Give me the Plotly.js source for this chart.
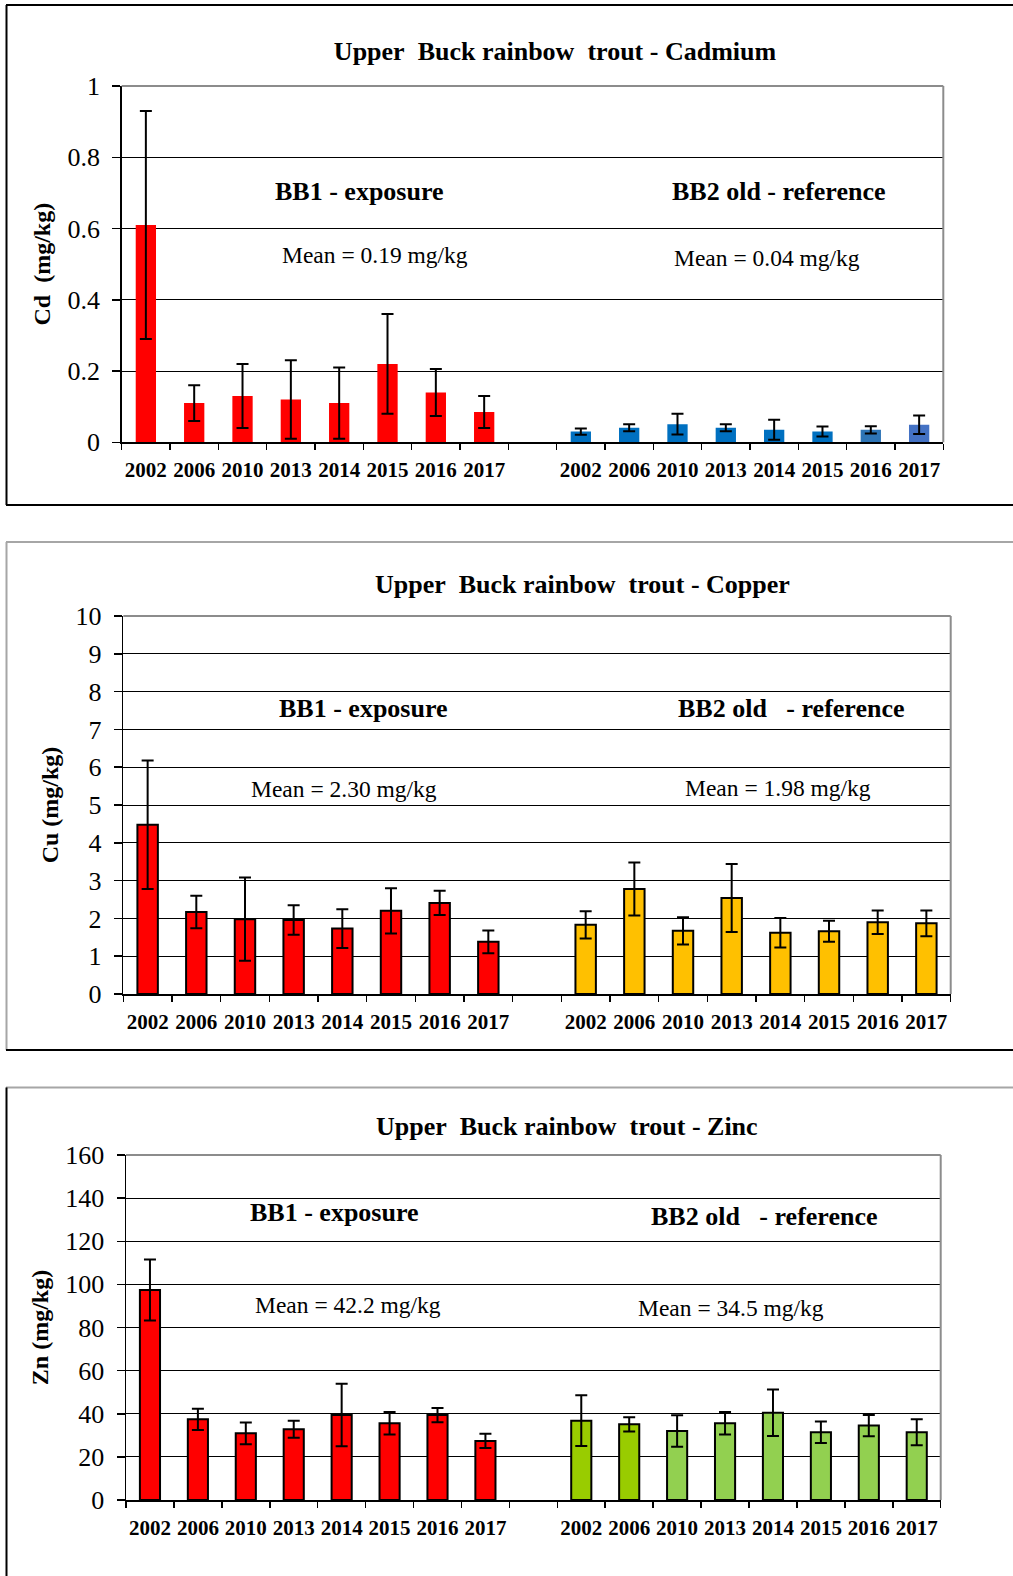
<!DOCTYPE html>
<html>
<head>
<meta charset="utf-8">
<script src="https://cdn.plot.ly/plotly-3.0.1.min.js"></script>
<style>
  html, body { margin: 0; padding: 0; background: #fff; }
  #chart { width: 1013px; height: 1576px; }
</style>
</head>
<body>
<div id="chart"></div>
<script>
// ---------------- data ----------------
const years = ['2002', '2006', '2010', '2013', '2014', '2015', '2016', '2017'];

const cdBB1    = [0.61, 0.11, 0.13, 0.12, 0.11, 0.22, 0.14, 0.085];
const cdBB1Err = [0.32, 0.05, 0.09, 0.11, 0.10, 0.14, 0.066, 0.045];
const cdBB2    = [0.030, 0.041, 0.051, 0.041, 0.035, 0.030, 0.035, 0.049];
const cdBB2Err = [0.009, 0.010, 0.029, 0.010, 0.028, 0.014, 0.010, 0.026];

const cuBB1    = [4.48, 2.17, 1.98, 1.96, 1.73, 2.20, 2.41, 1.38];
const cuBB1Err = [1.70, 0.43, 1.10, 0.39, 0.51, 0.60, 0.32, 0.30];
const cuBB2    = [1.83, 2.78, 1.67, 2.54, 1.62, 1.66, 1.90, 1.87];
const cuBB2Err = [0.36, 0.70, 0.36, 0.90, 0.39, 0.28, 0.31, 0.34];

const znBB1    = [97.4, 37.4, 30.9, 32.8, 39.4, 35.6, 39.4, 27.4];
const znBB1Err = [14.1, 4.9, 5.0, 3.9, 14.5, 5.2, 3.3, 3.3];
const znBB2    = [36.8, 35.1, 32.0, 35.6, 40.5, 31.4, 34.5, 31.4];
const znBB2Err = [11.8, 3.3, 7.3, 5.2, 10.8, 5.0, 4.9, 6.0];

const titles = [
  'Upper\u00A0 Buck rainbow\u00A0 trout - Cadmium',
  'Upper\u00A0 Buck rainbow\u00A0 trout - Copper',
  'Upper\u00A0 Buck rainbow\u00A0 trout - Zinc'
];
const yTitles = ['Cd\u00A0 (mg/kg)', 'Cu (mg/kg)', 'Zn (mg/kg)'];
const siteLabels = [
  ['BB1 - exposure', 'BB2 old - reference'],
  ['BB1 - exposure', 'BB2 old\u00A0\u00A0 - reference'],
  ['BB1 - exposure', 'BB2 old\u00A0\u00A0 - reference']
];
const meanLabels = [
  ['Mean = 0.19 mg/kg', 'Mean = 0.04 mg/kg'],
  ['Mean = 2.30 mg/kg', 'Mean = 1.98 mg/kg'],
  ['Mean = 42.2 mg/kg', 'Mean = 34.5 mg/kg']
];

// ---------------- styles ----------------
const W = 1013, H = 1576;
const FONT = 'Liberation Serif, Times New Roman, serif';
const px = v => v / W;
const py = v => 1 - v / H;

const red = '#FF0000';
const cdBlue = ['#0070C0', '#0070C0', '#0070C0', '#0070C0', '#0070C0', '#0070C0', '#2E75B6', '#4472C4'];
const cuYellow = years.map(() => '#FFC000');
const znGreen = ['#99CC00', '#99CC00', '#92D050', '#92D050', '#92D050', '#92D050', '#92D050', '#92D050'];

// panel geometry (pixels)
const panels = [
  { l: 121.7, r: 943.3, t: 86,   b: 442.3, ymax: 1,   dtick: 0.2, outline: 0,
    site: [[359, 191], [778, 191]], mean: [[375, 255], [767, 258]], title: [555, 51] },
  { l: 123.3, r: 950.7, t: 616,  b: 994,   ymax: 10,  dtick: 1,   outline: 2,
    site: [[363, 708], [791, 708]], mean: [[344, 789], [778, 788]], title: [582, 584] },
  { l: 126,   r: 940.7, t: 1155, b: 1500,  ymax: 160, dtick: 20,  outline: 2,
    site: [[334, 1212], [764, 1216]], mean: [[348, 1305], [731, 1308]], title: [567, 1126] }
];

const series = [
  [cdBB1, cdBB1Err, cdBB2, cdBB2Err, cdBlue],
  [cuBB1, cuBB1Err, cuBB2, cuBB2Err, cuYellow],
  [znBB1, znBB1Err, znBB2, znBB2Err, znGreen]
];

const nCat = years.length * 2 + 1;
const xA = years.map((_, i) => i);
const xB = years.map((_, i) => i + years.length + 1);
const tickPos = xA.concat(xB);
const tickText = years.concat(years);
const bounds = [];
for (let i = 0; i <= nCat; i++) bounds.push(i - 0.5);

const data = [];
const layout = {
  width: W, height: H,
  margin: { l: 0, r: 0, t: 0, b: 0, pad: 0 },
  paper_bgcolor: '#fff', plot_bgcolor: '#fff',
  showlegend: false,
  barmode: 'overlay',
  font: { family: FONT, color: '#000' },
  title: {
    text: titles[0], x: px(panels[0].title[0]), xanchor: 'center',
    y: py(panels[0].title[1]), yanchor: 'middle', xref: 'paper', yref: 'paper',
    font: { family: FONT, size: 26, weight: 'bold', color: '#000' }
  },
  annotations: [],
  shapes: []
};

panels.forEach((p, k) => {
  const sfx = k === 0 ? '' : String(k + 1);
  const xa = 'x' + sfx, ya = 'y' + sfx;
  const [v1, e1, v2, e2, c2] = series[k];
  const mk = (col) => ({ color: col, line: { color: '#000', width: p.outline } });
  const err = (arr) => ({ type: 'data', array: arr, visible: true, color: '#000', thickness: 2, width: 6 });
  data.push({ type: 'bar', x: xA, y: v1, width: 0.42, marker: mk(red), error_y: err(e1),
              xaxis: xa, yaxis: ya, name: 'BB1', hoverinfo: 'x+y' });
  data.push({ type: 'bar', x: xB, y: v2, width: 0.42, marker: mk(c2), error_y: err(e2),
              xaxis: xa, yaxis: ya, name: 'BB2', hoverinfo: 'x+y' });

  layout['xaxis' + sfx] = {
    domain: [px(p.l), px(p.r)], anchor: ya,
    range: [-0.5, nCat - 0.5], fixedrange: true,
    tickmode: 'array', tickvals: tickPos, ticktext: tickText,
    ticks: '', showgrid: false, zeroline: false,
    showline: true, linecolor: '#000', linewidth: 1.5,
    tickfont: { family: FONT, size: 21, weight: 'bold', color: '#000' },
    ticklabelstandoff: 8,
    minor: { tickmode: 'array', tickvals: bounds, ticks: 'outside', ticklen: 6,
             tickwidth: 1.5, tickcolor: '#000', showgrid: false }
  };
  layout['yaxis' + sfx] = {
    domain: [py(p.b), py(p.t)], anchor: xa,
    range: [0, p.ymax], dtick: p.dtick, tick0: 0, fixedrange: true,
    ticks: 'outside', ticklen: 8, tickwidth: 1.5, tickcolor: '#000',
    showline: true, linecolor: '#000', linewidth: 1.5,
    showgrid: true, gridcolor: '#000', gridwidth: 1, zeroline: false,
    tickfont: { family: FONT, size: 26, color: '#000' },
    ticklabelstandoff: 7,
    title: { text: yTitles[k], standoff: 10, font: { family: FONT, size: 24, weight: 'bold', color: '#000' } }
  };

  // gray top & right frame of the plot area
  layout.shapes.push({ type: 'line', xref: xa + ' domain', yref: ya + ' domain', x0: 0, x1: 1, y0: 1, y1: 1,
                       line: { color: '#8C8C8C', width: 2 } });
  layout.shapes.push({ type: 'line', xref: xa + ' domain', yref: ya + ' domain', x0: 1, x1: 1, y0: 0, y1: 1,
                       line: { color: '#8C8C8C', width: 2 } });

  if (k > 0) {
    layout.annotations.push({
      text: titles[k], xref: 'paper', yref: 'paper', x: px(p.title[0]), y: py(p.title[1]),
      xanchor: 'center', yanchor: 'middle', showarrow: false,
      font: { family: FONT, size: 26, weight: 'bold', color: '#000' }
    });
  }
  for (let s = 0; s < 2; s++) {
    layout.annotations.push({
      text: siteLabels[k][s], xref: 'paper', yref: 'paper', x: px(p.site[s][0]), y: py(p.site[s][1]),
      xanchor: 'center', yanchor: 'middle', showarrow: false,
      font: { family: FONT, size: 26, weight: 'bold', color: '#000' }
    });
    layout.annotations.push({
      text: meanLabels[k][s], xref: 'paper', yref: 'paper', x: px(p.mean[s][0]), y: py(p.mean[s][1]),
      xanchor: 'center', yanchor: 'middle', showarrow: false,
      font: { family: FONT, size: 23.5, color: '#000' }
    });
  }
});

// panel frames
const frame = (x0, y0, x1, y1, col) => ({ type: 'line', xref: 'paper', yref: 'paper',
  x0: px(x0), y0: py(y0), x1: px(x1), y1: py(y1), line: { color: col, width: 2 } });
layout.shapes.push(frame(6, 5, 1013, 5, '#000'));
layout.shapes.push(frame(6.5, 5, 6.5, 505, '#000'));
layout.shapes.push(frame(6, 505, 1013, 505, '#000'));
layout.shapes.push(frame(6, 542, 1013, 542, '#A6A6A6'));
layout.shapes.push(frame(6.5, 542, 6.5, 1050, '#A6A6A6'));
layout.shapes.push(frame(6, 1050, 1013, 1050, '#000'));
layout.shapes.push(frame(6, 1087.5, 1013, 1087.5, '#A6A6A6'));
layout.shapes.push(frame(6.5, 1087.5, 6.5, 1576, '#000'));

Plotly.newPlot('chart', data, layout, { staticPlot: true, displayModeBar: false });
</script>
</body>
</html>
